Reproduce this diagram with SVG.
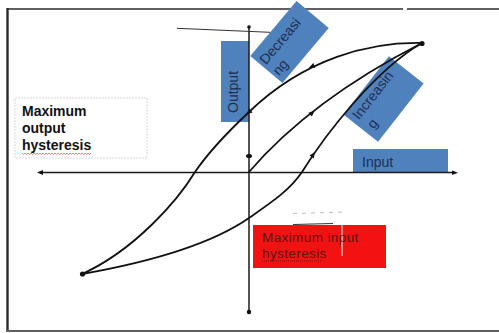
<svg xmlns="http://www.w3.org/2000/svg" width="499" height="333" viewBox="0 0 499 333">
<defs>
<style>
.frame{stroke:#5f5f5f;stroke-width:2.2;fill:none}
.axis{stroke:#1a1a1a;stroke-width:1.5;fill:none}
.curve{stroke:#111;stroke-width:1.8;fill:none;stroke-linecap:round}
.blue{fill:#4f81bd}
.lbl{font-family:"Liberation Sans",Arial,sans-serif;font-size:14px;fill:#1f2f4f}
.bold{font-family:"Liberation Sans",Arial,sans-serif;font-size:14px;font-weight:bold;fill:#111}
.red{font-family:"Liberation Sans",Arial,sans-serif;font-size:13.5px;fill:#5a1616;letter-spacing:0.4px}
</style>
<path id="ah" d="M3.5,0 L-2.5,-2.6 L-2.5,2.6 Z" fill="#111"/>
</defs>
<rect width="499" height="333" fill="#fff"/>
<!-- frame -->
<g id="frame">
<line class="frame" x1="7" y1="9" x2="403" y2="9"/>
<line class="frame" x1="407" y1="9" x2="499" y2="9"/>
<line x1="7.5" y1="8" x2="7.5" y2="332" stroke="#2a2a2a" stroke-width="2.4"/>
<line class="frame" x1="7" y1="331" x2="499" y2="331"/>
</g>
<!-- boxes -->
<g id="max-output">
<rect x="15" y="98" width="132" height="60" fill="#fff" stroke="#d8d8d8" stroke-width="1" stroke-dasharray="2,1"/>
<text class="bold" x="22" y="116">Maximum</text>
<text class="bold" x="22" y="133">output</text>
<text class="bold" x="22" y="150">hysteresis</text>
<path d="M22,153 l1.5,1.5 l1.5,-1.5 l1.5,1.5 l1.5,-1.5 l1.5,1.5 l1.5,-1.5 l1.5,1.5 l1.5,-1.5 l1.5,1.5 l1.5,-1.5 l1.5,1.5 l1.5,-1.5 l1.5,1.5 l1.5,-1.5 l1.5,1.5 l1.5,-1.5 l1.5,1.5 l1.5,-1.5 l1.5,1.5 l1.5,-1.5 l1.5,1.5 l1.5,-1.5 l1.5,1.5 l1.5,-1.5 l1.5,1.5 l1.5,-1.5 l1.5,1.5 l1.5,-1.5 l1.5,1.5 l1.5,-1.5 l1.5,1.5 l1.5,-1.5 l1.5,1.5 l1.5,-1.5 l1.5,1.5 l1.5,-1.5 l1.5,1.5 l1.5,-1.5 l1.5,1.5 l1.5,-1.5 l1.5,1.5 l1.5,-1.5 l1.5,1.5 l1.5,-1.5 l1.5,1.5 l1.5,-1.5" fill="none" stroke="#e05050" stroke-width="0.7"/>
</g>
<g id="output">
<rect class="blue" x="221" y="41" width="28" height="81"/>
<text class="lbl" transform="translate(238,113) rotate(-90)">Output</text>
</g>
<g id="input">
<rect class="blue" x="353" y="149" width="95" height="24"/>
<text class="lbl" x="362" y="167">Input</text>
</g>
<g id="decreasing" transform="translate(289.5,42) rotate(-50)">
<rect class="blue" x="-36" y="-21" width="72" height="42"/>
<text class="lbl" x="-33" y="-3">Decreasi</text>
<text class="lbl" x="-33" y="14">ng</text>
</g>
<g id="increasing" transform="translate(383.5,99) rotate(-52)">
<rect class="blue" x="-37" y="-22" width="74" height="44"/>
<text class="lbl" x="-32" y="-6">Increasin</text>
<text class="lbl" x="-30" y="11">g</text>
</g>
<g id="max-input">
<rect x="253" y="225" width="133" height="43" fill="#f21212"/>
<line x1="293" y1="224.5" x2="333" y2="223.5" stroke="#333" stroke-width="1"/>
<line x1="342" y1="223" x2="342" y2="256" stroke="#fff" stroke-width="1"/>
<text class="red" x="262" y="242">Maximum input</text>
<text class="red" x="262" y="258">hysteresis</text>
<line x1="262" y1="261" x2="322" y2="261" stroke="#5a1616" stroke-width="0.7" stroke-dasharray="1,1"/>
<line x1="293" y1="213.5" x2="345" y2="212" stroke="#bbb" stroke-width="1" stroke-dasharray="4,5"/>
</g>
<!-- connectors -->
<g id="connectors">
<line class="axis" x1="40" y1="172.5" x2="455" y2="172.5"/>
<path d="M37,172.5 L43,170 L43,175 Z" fill="#111"/>
<path d="M458,172.8 L452,170.5 L452,175 Z" fill="#111"/>
<line class="axis" x1="249" y1="27" x2="249" y2="312"/>
<circle cx="249" cy="27" r="1.8" fill="#111"/>
<circle cx="249" cy="312" r="2.2" fill="#111"/>
<line x1="177" y1="28.3" x2="270" y2="32.3" stroke="#333" stroke-width="1"/>
<path class="curve" d="M422,43 C370,42 305,58 249,112 C232,128 210,150 195,172 C178,200 135,250 82,274"/>
<path class="curve" d="M82,274 C150,262 210,245 249,218 C272,202 290,190 302,172 C325,135 375,70 422,43"/>
<path class="curve" d="M249,172 C285,130 340,85 422,43"/>
<circle cx="422" cy="43.5" r="2.6" fill="#111"/>
<circle cx="82.5" cy="274" r="2.6" fill="#111"/>
<ellipse cx="249" cy="156" rx="3" ry="2" fill="#111"/>
<use href="#ah" transform="translate(312,66.5) rotate(156)"/>
<use href="#ah" transform="translate(249,112) rotate(140)"/>
<use href="#ah" transform="translate(312,113) rotate(-42)"/>
<use href="#ah" transform="translate(313,155) rotate(-56)"/>
</g>
</svg>
